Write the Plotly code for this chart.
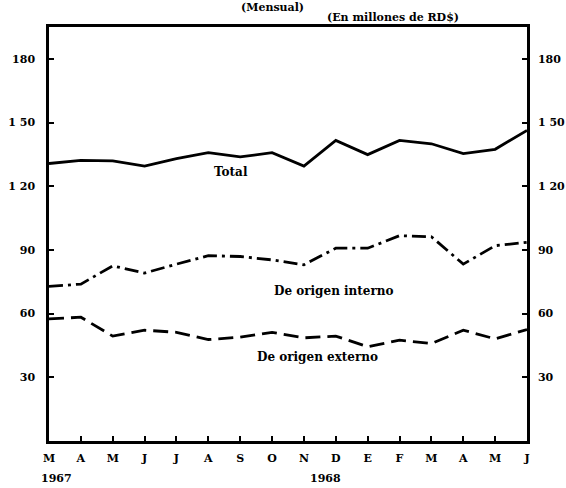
import plotly.graph_objects as go

months = ["M", "A", "M", "J", "J", "A", "S", "O", "N", "D", "E", "F", "M", "A", "M", "J"]
total = [130.7, 132.2, 131.9, 129.5, 133.0, 135.8, 133.8, 135.8, 129.5, 141.6, 134.9, 141.6, 140.0, 135.4, 137.4, 146.3]
interno = [72.8, 73.9, 82.5, 79.1, 83.3, 87.3, 86.9, 85.3, 83.0, 90.8, 90.8, 96.7, 96.2, 83.3, 92.0, 93.6]
externo = [57.5, 58.3, 49.4, 52.2, 51.2, 47.8, 48.9, 51.2, 48.6, 49.4, 44.4, 47.5, 45.9, 52.2, 48.1, 52.5]
y_ticks = [30, 60, 90, 120, 150, 180]
y_ticktext = ["30", "60", "90", "1 20", "1 50", "180"]

x = list(range(len(months)))
FONT = "DejaVu Serif"

fig = go.Figure()
fig.add_trace(go.Scatter(x=x, y=total, mode="lines", line=dict(color="black", width=2.8), showlegend=False))
fig.add_trace(go.Scatter(x=x, y=interno, mode="lines",
                         line=dict(color="black", width=2.8, dash="14px,5px,3px,5px"), showlegend=False))
fig.add_trace(go.Scatter(x=x, y=externo, mode="lines",
                         line=dict(color="black", width=2.8, dash="15px,7px"), showlegend=False))
fig.add_trace(go.Scatter(x=[0], y=[0], yaxis="y2", mode="markers", marker=dict(opacity=0),
                         showlegend=False, hoverinfo="skip"))

tickfont = dict(family=FONT, size=11, color="black", weight="bold")

fig.update_layout(
    width=566, height=488,
    margin=dict(l=49, r=39, t=27, b=47),
    paper_bgcolor="white", plot_bgcolor="white",
    font=dict(family=FONT, color="black"),
    xaxis=dict(range=[0, 15], tickvals=x, ticktext=months, ticks="inside", ticklen=5, tickwidth=2,
               tickcolor="black", showline=True, linewidth=2.5, linecolor="black", mirror=True,
               showgrid=False, zeroline=False, tickfont=tickfont, ticklabelstandoff=5, automargin=False),
    yaxis=dict(range=[0, 195], tickvals=y_ticks, ticktext=y_ticktext, ticks="inside", ticklen=5,
               tickwidth=2, tickcolor="black", showline=True, linewidth=2.5, linecolor="black",
               showgrid=False, zeroline=False, tickfont=tickfont, ticklabelstandoff=9, automargin=False),
    yaxis2=dict(range=[0, 195], tickvals=y_ticks, ticktext=y_ticktext, overlaying="y", side="right",
                ticks="inside", ticklen=5, tickwidth=2, tickcolor="black", showline=True, linewidth=2.5,
                linecolor="black", showgrid=False, zeroline=False, tickfont=tickfont,
                ticklabelstandoff=6, automargin=False),
)

def ann(text, xp, yp, size=11):
    fig.add_annotation(text=text, x=xp, y=yp, xref="paper", yref="paper", showarrow=False,
                       xanchor="center", yanchor="middle",
                       font=dict(family=FONT, size=size, color="black", weight="bold"))

W, H, L, T = 478, 414, 49, 27
def px(xpix, ypix):
    return (xpix - L) / W, 1 - (ypix - T) / H

ann("(Mensual)", *px(272, 7))
ann("(En millones de RD$)", *px(393, 18))
ann("Total", *px(231, 172), size=12)
ann("De origen interno", *px(334, 291), size=12)
ann("De origen externo", *px(317, 357), size=12)
ann("1967", *px(56, 478))
ann("1968", *px(325, 478))

fig.write_html("out.html", config={"displayModeBar": False},
               post_script="document.body.style.margin='0';document.body.style.overflow='hidden';")
